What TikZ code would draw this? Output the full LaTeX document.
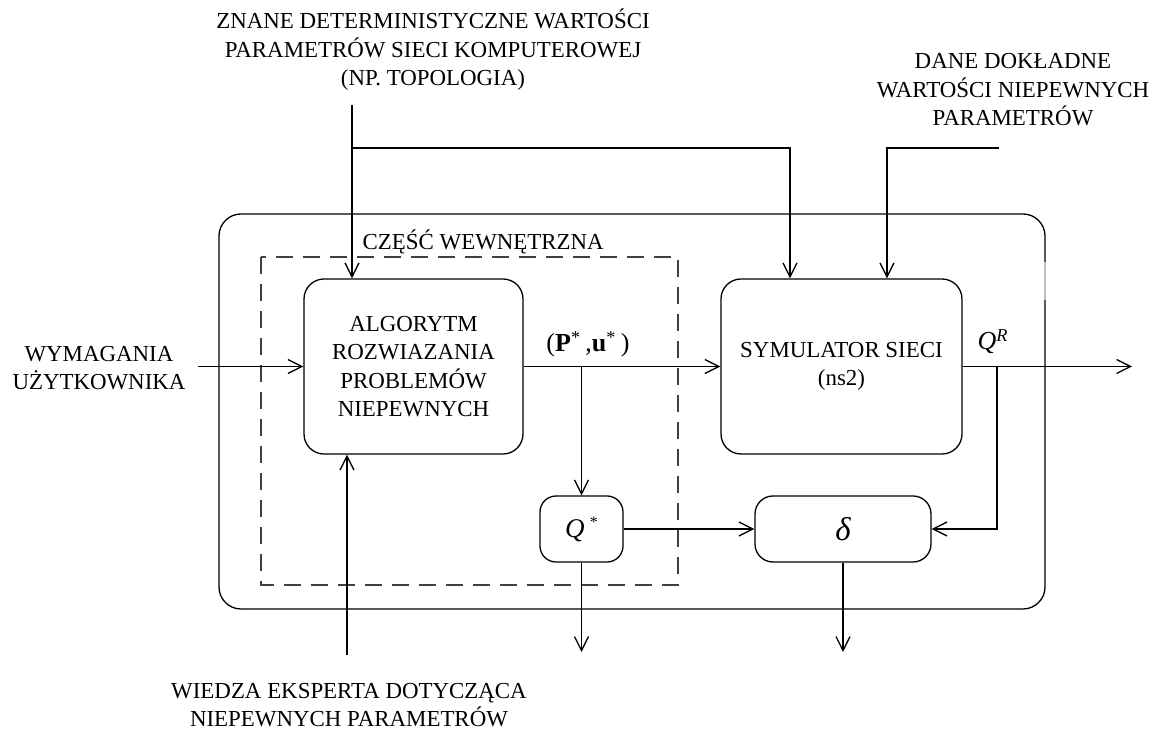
\documentclass[tikz,border=0pt]{standalone}
\usepackage{fontspec}
\setmainfont{Liberation Serif}
\usetikzlibrary{arrows.meta}
\begin{document}
\begin{tikzpicture}[x=0.5pt,y=-0.5pt,
  line width=0.65pt,
  >={Straight Barb[length=7pt,width=7pt]},
  txt/.style={font=\fontsize{11.45}{14.25}\selectfont},
  lbl/.style={txt, align=center, inner sep=0pt},
  blk/.style={draw, rounded corners=10pt, align=center, txt, inner sep=0pt},
  frame/.style={draw=black!75, dash pattern=on 8.5pt off 5pt},
]
\useasboundingbox (0,0) rectangle (1158,731);

% outer system boundary (thin gap in the right side)
\draw[rounded corners=11pt] (1045,262) -- (1045,214) -- (219,214) -- (219,609) -- (1045,609) -- (1045,300);
\draw[black!25] (1045,262) -- (1045,300);

% inner part (dashed)
\draw[frame] (261,257) rectangle (678,585);
\node[lbl, anchor=base west] (inner) at (362,250) {CZĘŚĆ WEWNĘTRZNA};

% blocks
\node[blk, minimum width=109.5pt, minimum height=87.5pt] (alg) at (413.5,366.5)
  {ALGORYTM\\ROZWIAZANIA\\PROBLEMÓW\\NIEPEWNYCH};
\node[blk, minimum width=120.5pt, minimum height=87.5pt] (sim) at (841.5,366.5)
  {SYMULATOR SIECI\\(ns2)};
\node[blk, rounded corners=8pt, minimum width=41.5pt, minimum height=33pt] (qs) at (581.5,529)
  {{\fontsize{13.5}{16}\selectfont\itshape Q}\raisebox{5pt}{\fontsize{8}{8}\selectfont\,\,*}};
\node[blk, rounded corners=9pt, minimum width=88pt, minimum height=33pt] (delta) at (843,529)
  {\fontsize{16.5}{16}\selectfont\itshape δ};

% external labels
\node[lbl] (det) at (433,50) {ZNANE DETERMINISTYCZNE WARTOŚCI\\PARAMETRÓW SIECI KOMPUTEROWEJ\\(NP. TOPOLOGIA)};
\node[lbl] (exact) at (1013,90) {DANE DOKŁADNE\\WARTOŚCI NIEPEWNYCH\\PARAMETRÓW};
\node[lbl] (wym) at (99,368) {WYMAGANIA\\UŻYTKOWNIKA};
\node[lbl] (exp) at (349,705) {WIEDZA EKSPERTA DOTYCZĄCA\\NIEPEWNYCH PARAMETRÓW};

% signal labels
\node[lbl, anchor=base, font=\fontsize{13}{15}\selectfont] (pu) at (588,352)
  {(\textbf{P}\textsuperscript{*}\,,\textbf{u}\textsuperscript{*}\,)};
\node[lbl, anchor=base, font=\fontsize{13}{15}\selectfont] (qrl) at (993,350)
  {\textit{Q}\textsuperscript{\textit{R}}};

% connection points
\coordinate (wymIn) at (198,366.5);
\coordinate (out) at (1132,366.5);
\coordinate (br) at (581.5,366.5);
\coordinate (qr) at (997,366.5);
\coordinate (qsOut) at (581.5,652);
\coordinate (dOut) at (843,652);
\coordinate (expIn) at (347,655);
\coordinate (detIn) at (352,105);
\coordinate (detBr) at (352,148);
\coordinate (detTurn) at (790,148);
\coordinate (exIn) at (999,148);
\coordinate (exTurn) at (887,148);

% connectors
\draw[->] (wymIn) -- (alg.west);
\draw[->] (alg.east) -- (sim.west);
\draw[->] (sim.east) -- (out);
\draw[->] (br) -- (qs.north);
\draw[->] (qs.east) -- (delta.west);
\draw[->] (qr) -- (qr |- delta.east) -- (delta.east);
\draw[->] (qs.south) -- (qsOut);
\draw[->] (delta.south) -- (dOut);
\draw[->] (expIn) -- (expIn |- alg.south);
\draw[->] (detIn) -- (detIn |- alg.north);
\draw[->] (detBr) -- (detTurn) -- (detTurn |- sim.north);
\draw[->] (exIn) -- (exTurn) -- (exTurn |- sim.north);
\end{tikzpicture}
\end{document}
